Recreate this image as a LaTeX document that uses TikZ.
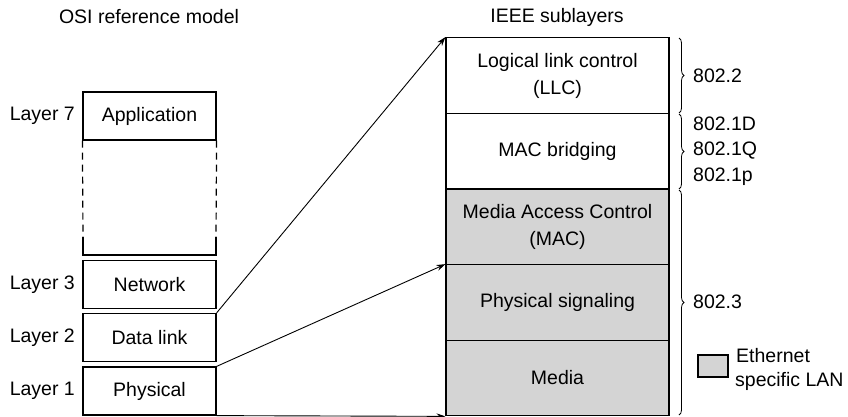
\documentclass[tikz,border=0pt]{standalone}
\usepackage{fontspec}
\setmainfont{Liberation Sans}
\usetikzlibrary{decorations.pathreplacing,arrows.meta}
\definecolor{lanGray}{RGB}{212,212,212}
\begin{document}
\begin{tikzpicture}[x=1pt,y=-1pt,
  every node/.style={font=\fontsize{19.5}{27}\selectfont, inner sep=0pt},
  osibox/.style={draw, line width=1.2pt, minimum width=133pt, minimum height=48pt},
  ieeebox/.style={draw, line width=1.2pt, minimum width=223pt, minimum height=75.5pt, align=center},
  shaded/.style={fill=lanGray},
  conn/.style={line width=0.9pt, -{Stealth[length=9pt,width=6pt]}},
  bracestyle/.style={decorate, decoration={brace, amplitude=5pt}, line width=0.8pt}
]
\useasboundingbox (0,0) rectangle (848,416);

% headers
\node (hosi) at (149,17) {OSI reference model};
\node (hieee) at (557,17) {IEEE sublayers};

% OSI stack
\node[osibox] (app) at (149.5,116) {Application};
\node[osibox] (net) at (149.5,284.5) {Network};
\node[osibox] (dl) at (149.5,337.5) {Data link};
\node[osibox] (phy) at (149.5,391) {Physical};
\coordinate (dA) at (83,255);
\coordinate (dB) at (216,255);
\draw[line width=1.2pt, dash pattern=on 7pt off 5pt] (app.south west) -- (83,237);
\draw[line width=1.2pt, dash pattern=on 7pt off 5pt] (app.south east) -- (216,237);
\draw[line width=1.2pt] (83,237) -- (dA) -- (dB) -- (216,237);

% layer labels
\node[anchor=east] (l7) at (75,116) {Layer 7};
\node[anchor=east] (l3) at (75,284.5) {Layer 3};
\node[anchor=east] (l2) at (75,337.5) {Layer 2};
\node[anchor=east] (l1) at (75,391) {Layer 1};

% IEEE stack
\node[ieeebox] (llc) at (557.5,75.5) {Logical link control\\(LLC)};
\node[ieeebox] (macb) at (557.5,151) {MAC bridging};
\node[ieeebox, shaded] (mac) at (557.5,227) {Media Access Control\\(MAC)};
\node[ieeebox, shaded] (psig) at (557.5,302.5) {Physical signaling};
\node[ieeebox, shaded] (media) at (557.5,378) {Media};

% connectors
\draw[conn] (dl.north east) -- (llc.north west);
\draw[conn] (phy.north east) -- (psig.north west);
\draw[conn] (phy.south east) -- (media.south west);

% braces
\coordinate (b1a) at (679,38);
\coordinate (b1b) at (679,113);
\coordinate (b2a) at (679,114);
\coordinate (b2b) at (679,189);
\coordinate (b3a) at (679,190);
\coordinate (b3b) at (679,415);
\draw[bracestyle] (b1a) -- (b1b);
\draw[bracestyle] (b2a) -- (b2b);
\draw[bracestyle] (b3a) -- (b3b);

\node[anchor=west] (s1) at (693,76) {802.2};
\node[anchor=west] (s2) at (693,124) {802.1D};
\node[anchor=west] (s3) at (693,151) {802.1Q};
\node[anchor=west] (s4) at (693,177) {802.1p};
\node[anchor=west] (s5) at (693,302) {802.3};

% legend
\node[draw, line width=1.2pt, fill=lanGray, minimum width=30pt, minimum height=22pt] (leg) at (713,366) {};
\node[anchor=west] (legt1) at (736,356) {Ethernet};
\node[anchor=west] (legt2) at (735,381) {specific LAN};
\end{tikzpicture}
\end{document}
